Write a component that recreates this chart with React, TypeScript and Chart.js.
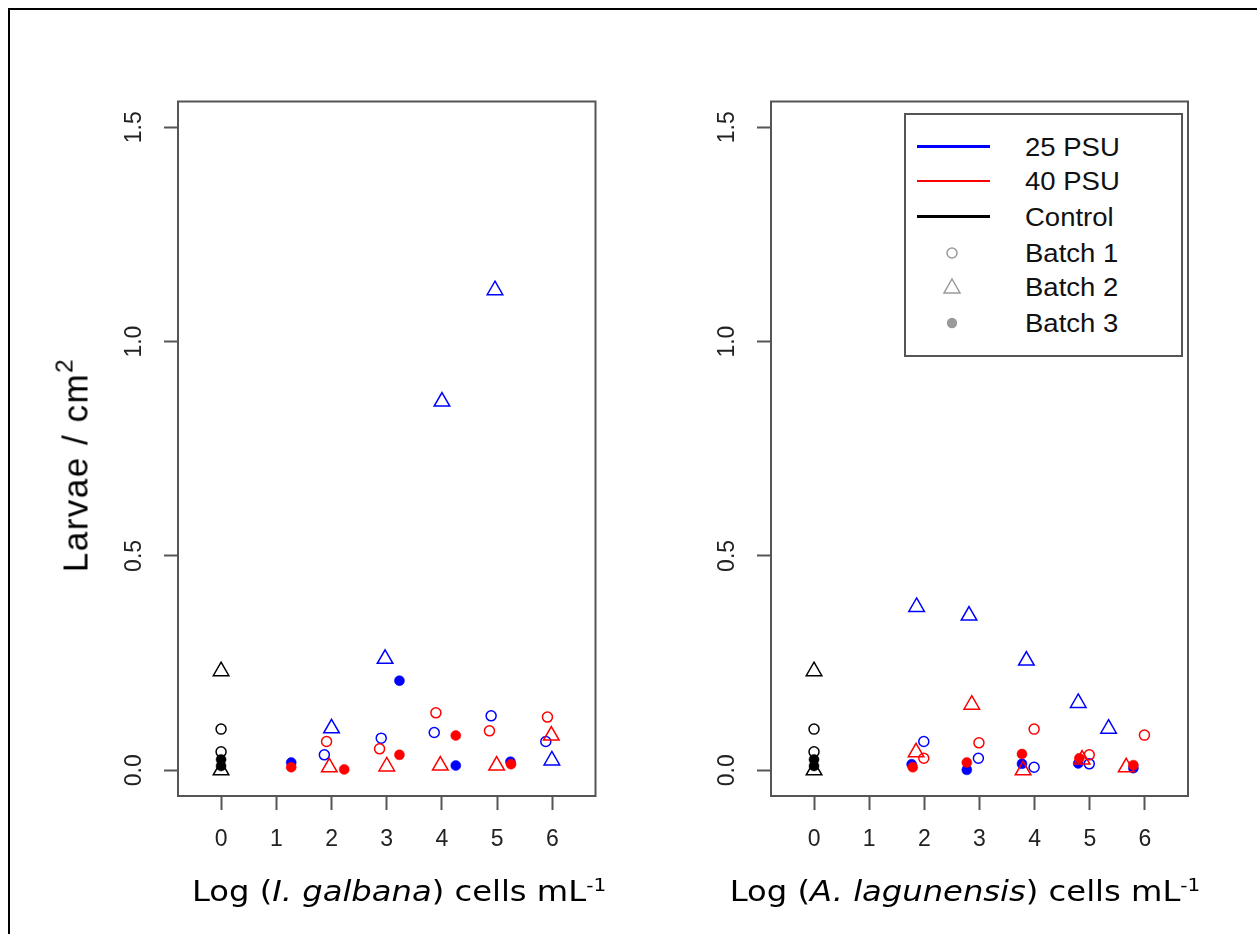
import React, { useEffect, useRef } from "react";
import { Chart, registerables } from "chart.js";
Chart.register(...registerables);

// ---------- data ----------
const xTickValues = [0, 1, 2, 3, 4, 5, 6];
const yTickValues = [0, 0.5, 1.0, 1.5];

// Control (x = 0), same in both panels
const ctrlB1X = [0, 0];
const ctrlB1Y = [0.096, 0.043];
const ctrlB2X = [0, 0];
const ctrlB2Y = [0.231, 0.0];
const ctrlB3X = [0, 0];
const ctrlB3Y = [0.025, 0.01];

// Left panel: I. galbana
const gal25B1X = [1.87, 2.9, 3.86, 4.89, 5.88];
const gal25B1Y = [0.036, 0.075, 0.088, 0.127, 0.067];
const gal25B2X = [2.0, 2.97, 4.0, 4.96, 5.99];
const gal25B2Y = [0.098, 0.26, 0.86, 1.12, 0.023];
const gal25B3X = [1.27, 3.23, 4.25, 5.24];
const gal25B3Y = [0.018, 0.209, 0.011, 0.02];
const gal40B1X = [1.91, 2.87, 3.89, 4.86, 5.91];
const gal40B1Y = [0.067, 0.05, 0.134, 0.092, 0.124];
const gal40B2X = [1.96, 3.0, 3.97, 4.99, 5.98];
const gal40B2Y = [0.007, 0.009, 0.011, 0.011, 0.081];
const gal40B3X = [1.27, 2.23, 3.23, 4.25, 5.25];
const gal40B3Y = [0.007, 0.002, 0.036, 0.081, 0.014];

// Right panel: A. lagunensis
const lag25B1X = [1.99, 2.98, 3.99, 4.99];
const lag25B1Y = [0.067, 0.028, 0.007, 0.015];
const lag25B2X = [1.86, 2.81, 3.85, 4.79, 5.34];
const lag25B2Y = [0.381, 0.361, 0.256, 0.157, 0.097];
const lag25B3X = [1.77, 2.77, 3.77, 4.79, 5.79];
const lag25B3Y = [0.014, 0.001, 0.015, 0.016, 0.005];
const lag40B1X = [1.99, 2.99, 3.99, 4.99, 5.99];
const lag40B1Y = [0.028, 0.064, 0.096, 0.036, 0.082];
const lag40B2X = [1.85, 2.86, 3.79, 4.86, 5.66];
const lag40B2Y = [0.042, 0.153, 0.0, 0.025, 0.007];
const lag40B3X = [1.79, 2.77, 3.77, 4.81, 5.79];
const lag40B3Y = [0.007, 0.018, 0.038, 0.028, 0.012];

const legendLabels = ["25 PSU", "40 PSU", "Control", "Batch 1", "Batch 2", "Batch 3"];

// ---------- styles ----------
const BLUE = "#0000ff";
const RED = "#ff0000";
const BLACK = "#000000";
const AXIS = "#555555";
const TICK_FONT = { family: '"Liberation Sans", Arial, sans-serif', size: 23 };

function toPts(xs: number[], ys: number[]) {
  return xs.map((x, i) => ({ x, y: ys[i] }));
}

function ds(label: string, xs: number[], ys: number[], color: string, batch: number, order: number) {
  const common: any = { label, data: toPts(xs, ys), showLine: false, order, pointBorderColor: color, borderColor: color };
  if (batch === 1) {
    return { ...common, pointStyle: "circle", pointRadius: 5, pointBorderWidth: 1.5, pointBackgroundColor: "rgba(0,0,0,0)", backgroundColor: "rgba(0,0,0,0)" };
  }
  if (batch === 2) {
    return { ...common, pointStyle: "triangle", pointRadius: 9, pointBorderWidth: 1.5, pointBackgroundColor: "rgba(0,0,0,0)", backgroundColor: "rgba(0,0,0,0)" };
  }
  return { ...common, pointStyle: "circle", pointRadius: 5, pointBorderWidth: 0.5, pointBackgroundColor: color, backgroundColor: color };
}

function controlSets() {
  return [
    ds("Control B1", ctrlB1X, ctrlB1Y, BLACK, 1, 0),
    ds("Control B2", ctrlB2X, ctrlB2Y, BLACK, 2, 0),
    ds("Control B3", ctrlB3X, ctrlB3Y, BLACK, 3, 0),
  ];
}

const leftDatasets = () => [
  ...controlSets(),
  ds("40 B1", gal40B1X, gal40B1Y, RED, 1, 1),
  ds("40 B2", gal40B2X, gal40B2Y, RED, 2, 1),
  ds("40 B3", gal40B3X, gal40B3Y, RED, 3, 1),
  ds("25 B1", gal25B1X, gal25B1Y, BLUE, 1, 2),
  ds("25 B2", gal25B2X, gal25B2Y, BLUE, 2, 2),
  ds("25 B3", gal25B3X, gal25B3Y, BLUE, 3, 2),
];

const rightDatasets = () => [
  ...controlSets(),
  ds("40 B1", lag40B1X, lag40B1Y, RED, 1, 1),
  ds("40 B2", lag40B2X, lag40B2Y, RED, 2, 1),
  ds("40 B3", lag40B3X, lag40B3Y, RED, 3, 1),
  ds("25 B1", lag25B1X, lag25B1Y, BLUE, 1, 2),
  ds("25 B2", lag25B2X, lag25B2Y, BLUE, 2, 2),
  ds("25 B3", lag25B3X, lag25B3Y, BLUE, 3, 2),
];

const boxPlugin = {
  id: "boxFrame",
  afterDraw(chart: any) {
    const { ctx, chartArea: a } = chart;
    ctx.save();
    ctx.strokeStyle = AXIS;
    ctx.lineWidth = 2;
    ctx.strokeRect(a.left, a.top, a.right - a.left, a.bottom - a.top);
    ctx.restore();
  },
};

const H = 934;

function Panel(props: { left: number; width: number; yAxisWidth: number; padRight: number; makeData: () => any[] }) {
  const ref = useRef<HTMLCanvasElement>(null);
  useEffect(() => {
    const chart = new Chart(ref.current as HTMLCanvasElement, {
      type: "scatter",
      data: { datasets: props.makeData() },
      options: {
        animation: false,
        responsive: false,
        devicePixelRatio: 1,
        events: [],
        layout: { padding: { left: 0, top: 101.5, right: props.padRight, bottom: 0 } },
        plugins: { legend: { display: false }, tooltip: { enabled: false }, title: { display: false } },
        scales: {
          x: {
            type: "linear",
            min: -0.78,
            max: 6.78,
            afterBuildTicks: (s: any) => {
              s.ticks = xTickValues.map((v) => ({ value: v }));
            },
            afterFit: (s: any) => {
              s.height = H - 796;
            },
            border: { display: false },
            grid: { drawOnChartArea: false, drawTicks: true, tickLength: 14, tickColor: AXIS, tickWidth: 2, color: AXIS },
            ticks: {
              font: TICK_FONT,
              color: "#222",
              padding: 16,
              autoSkip: false,
              maxRotation: 0,
              callback: (v: any) => String(v),
            },
          },
          y: {
            type: "linear",
            min: -0.06,
            max: 1.56,
            afterBuildTicks: (s: any) => {
              s.ticks = yTickValues.map((v) => ({ value: v }));
            },
            afterFit: (s: any) => {
              s.width = props.yAxisWidth;
            },
            border: { display: false },
            grid: { drawOnChartArea: false, drawTicks: true, tickLength: 14, tickColor: AXIS, tickWidth: 2, color: AXIS },
            ticks: {
              font: TICK_FONT,
              color: "#222",
              padding: 13,
              minRotation: 90,
              maxRotation: 90,
              crossAlign: "center",
              autoSkip: false,
              callback: (v: any) => Number(v).toFixed(1),
            },
          },
        },
      } as any,
      plugins: [boxPlugin],
    });
    return () => chart.destroy();
  }, []);
  return (
    <canvas
      ref={ref}
      width={props.width}
      height={H}
      style={{ position: "absolute", left: props.left, top: 0, width: props.width, height: H }}
    />
  );
}

const rowY = [146.7, 181, 216.7, 253, 286.7, 323];

function LegendSymbol({ kind }: { kind: number }) {
  if (kind < 3) {
    const c = [BLUE, RED, BLACK][kind];
    return <div style={{ position: "absolute", left: 917, top: rowY[kind] - 1.25, width: 73, height: 2.5, background: c }} />;
  }
  return (
    <svg style={{ position: "absolute", left: 942, top: rowY[kind] - 10 }} width={20} height={20}>
      {kind === 3 && <circle cx={10} cy={10} r={5} fill="none" stroke="#9a9a9a" strokeWidth={1.5} />}
      {kind === 4 && <polygon points="10,2 18,16 2,16" fill="none" stroke="#9a9a9a" strokeWidth={1.5} />}
      {kind === 5 && <circle cx={10} cy={10} r={5.2} fill="#9a9a9a" />}
    </svg>
  );
}

function Legend() {
  return (
    <>
      <div
        style={{
          position: "absolute",
          left: 904,
          top: 113,
          width: 279,
          height: 244,
          border: "2px solid #555",
          boxSizing: "border-box",
          background: "#fff",
        }}
      />
      {legendLabels.map((t, i) => (
        <React.Fragment key={t}>
          <LegendSymbol kind={i} />
          <div
            style={{
              position: "absolute",
              left: 1025,
              top: rowY[i],
              transform: "translateY(-50%) scaleX(1.1)",
              transformOrigin: "left center",
              font: '25px "Liberation Sans", Arial, sans-serif',
              lineHeight: "25px",
              color: "#111",
              whiteSpace: "nowrap",
            }}
          >
            {t}
          </div>
        </React.Fragment>
      ))}
    </>
  );
}

const xTitleStyle: React.CSSProperties = {
  position: "absolute",
  top: 892,
  font: '28px "DejaVu Sans", Verdana, sans-serif',
  lineHeight: "28px",
  whiteSpace: "nowrap",
  color: "#000",
};
const supStyle: React.CSSProperties = { fontSize: "0.62em", lineHeight: 0, verticalAlign: "0.55em" };

export default function App() {
  return (
    <div style={{ position: "fixed", left: 0, top: 0, width: 1257, height: H, background: "#fff", overflow: "hidden" }}>
      <div
        style={{
          position: "absolute",
          left: 8,
          top: 8,
          width: 1249,
          height: 926,
          borderTop: "2px solid #000",
          borderLeft: "2px solid #000",
          boxSizing: "border-box",
        }}
      />
      <Panel left={0} width={640} yAxisWidth={178} padRight={640 - 595.5} makeData={leftDatasets} />
      <Panel left={640} width={617} yAxisWidth={131} padRight={617 - 548} makeData={rightDatasets} />
      <div
        style={{
          position: "absolute",
          left: 75,
          top: 465,
          transform: "translate(-50%, -50%) rotate(-90deg)",
          font: '35px "Liberation Sans", Arial, sans-serif',
          lineHeight: "35px",
          letterSpacing: "1.5px",
          whiteSpace: "nowrap",
          color: "#000",
        }}
      >
        Larvae / cm<sup style={{ fontSize: "0.7em", lineHeight: 0, verticalAlign: "0.6em" }}>2</sup>
      </div>
      <div style={{ ...xTitleStyle, left: 399, transform: "translate(-50%, -50%) scaleX(1.15)" }}>
        Log (<i>I. galbana</i>) cells mL<sup style={supStyle}>-1</sup>
      </div>
      <div style={{ ...xTitleStyle, left: 965, transform: "translate(-50%, -50%) scaleX(1.15)" }}>
        Log (<i>A. lagunensis</i>) cells mL<sup style={supStyle}>-1</sup>
      </div>
      <Legend />
    </div>
  );
}
